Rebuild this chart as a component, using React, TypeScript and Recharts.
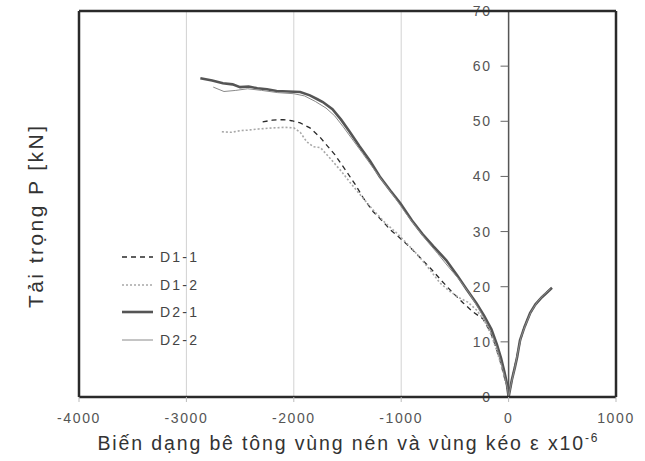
import React from 'react';
import {
  LineChart,
  Line,
  XAxis,
  YAxis,
  CartesianGrid,
  Legend,
  ReferenceLine,
} from 'recharts';

const FONT = '"Liberation Sans", Arial, sans-serif';

// axis ticks and grid positions
const X_TICKS = [-4000, -3000, -2000, -1000, 0, 1000];
const Y_TICKS = [0, 10, 20, 30, 40, 50, 60, 70];
const GRID_X = [-3000, -2000, -1000, 0];
const GRID_Y = [10, 20, 30, 40, 50, 60];

// strain (x10^-6), load (kN)
const D1_1: [number, number][] = [
  [-2290, 49.9], [-2200, 50.2], [-2100, 50.3], [-2020, 50.1], [-1940, 49.7],
  [-1850, 48.8], [-1760, 47.2], [-1690, 45.6], [-1620, 44.0], [-1520, 41.2],
  [-1430, 38.6], [-1350, 36.0], [-1260, 33.6], [-1180, 32.0], [-1100, 30.3],
  [-1010, 28.8], [-920, 27.2], [-830, 25.4], [-730, 23.4], [-620, 21.0],
  [-520, 18.9], [-420, 17.0], [-330, 15.4], [-240, 14.2], [-170, 11.8],
  [-120, 9.2], [-80, 6.6], [-45, 4.0], [-15, 1.8], [0, 0],
  [35, 3.5], [70, 6.6], [100, 9.6], [140, 12.4], [190, 14.8],
  [240, 16.5], [300, 17.9], [350, 18.9], [410, 19.9],
];

const D1_2: [number, number][] = [
  [-2670, 48.1], [-2580, 48.0], [-2500, 48.3], [-2430, 48.4], [-2330, 48.6],
  [-2200, 48.8], [-2080, 48.9], [-2000, 48.8], [-1940, 48.0], [-1880, 46.3],
  [-1820, 45.4], [-1750, 45.2], [-1650, 43.0], [-1560, 41.0], [-1480, 39.0],
  [-1370, 36.4], [-1260, 33.9], [-1150, 31.6], [-1040, 29.7], [-930, 27.5],
  [-830, 25.4], [-730, 23.0], [-640, 20.7], [-550, 19.2], [-460, 18.0],
  [-380, 17.2], [-300, 15.8], [-230, 14.0], [-160, 11.2], [-110, 8.4],
  [-70, 5.8], [-35, 3.2], [-10, 1.2], [0, 0],
  [20, 2.0], [50, 4.8], [90, 8.6], [125, 11.3], [175, 14.0],
  [225, 16.0], [285, 17.6], [340, 18.7], [380, 19.3],
];

const D2_1: [number, number][] = [
  [-2870, 57.8], [-2760, 57.4], [-2660, 56.9], [-2570, 56.7], [-2500, 56.2],
  [-2420, 56.3], [-2340, 56.0], [-2250, 55.8], [-2160, 55.5], [-2050, 55.4],
  [-1940, 55.3], [-1850, 54.7], [-1780, 54.0], [-1730, 53.5], [-1640, 52.2],
  [-1560, 50.3], [-1480, 48.1], [-1390, 45.5], [-1290, 42.8], [-1200, 40.0],
  [-1100, 37.4], [-1010, 35.2], [-900, 32.0], [-800, 29.5], [-700, 27.3],
  [-580, 24.8], [-480, 22.1], [-390, 19.5], [-300, 17.0], [-230, 14.8],
  [-160, 12.3], [-110, 9.6], [-70, 7.0], [-40, 4.6], [-15, 2.4], [0, 0],
  [30, 3.1], [60, 5.5], [80, 7.3], [106, 10.3], [150, 12.8],
  [200, 15.2], [250, 16.8], [310, 18.1], [360, 19.0], [404, 19.8],
];

const D2_2: [number, number][] = [
  [-2750, 56.2], [-2650, 55.4], [-2540, 55.6], [-2430, 55.9], [-2300, 55.6],
  [-2150, 55.2], [-2000, 55.0], [-1900, 54.6], [-1800, 53.6], [-1700, 52.4],
  [-1620, 51.0], [-1540, 49.0], [-1450, 46.6], [-1360, 44.2], [-1260, 41.5],
  [-1160, 38.8], [-1060, 36.2], [-960, 33.4], [-860, 30.8], [-760, 28.3],
  [-660, 26.0], [-560, 23.6], [-460, 21.3], [-370, 18.9], [-290, 16.4],
  [-220, 14.0], [-160, 11.5], [-110, 9.0], [-70, 6.2], [-35, 3.6],
  [-10, 1.5], [0, 0],
  [25, 2.5], [55, 5.0], [85, 8.0], [115, 10.8], [160, 13.2],
  [210, 15.5], [270, 17.3], [330, 18.6], [390, 19.6],
];

const toPoints = (arr: [number, number][]) => arr.map(([x, y]) => ({ x, y }));

const SERIES = [
  { name: 'D1-1', data: toPoints(D1_1), color: '#2a2a2a', width: 1.3, dash: '5 4' },
  { name: 'D1-2', data: toPoints(D1_2), color: '#a8a8a8', width: 1.6, dash: '2 2' },
  { name: 'D2-1', data: toPoints(D2_1), color: '#555555', width: 2.6, dash: undefined },
  { name: 'D2-2', data: toPoints(D2_2), color: '#8a8a8a', width: 1, dash: undefined },
];

const XTick = (props: any) => {
  const { x, y, payload } = props;
  return (
    <text x={x} y={y + 19} textAnchor="middle" fontSize={14} fill="#555"
      fontFamily={FONT} letterSpacing={1.6}>
      {payload.value}
    </text>
  );
};

const LegendContent = () => (
  <div style={{ fontFamily: FONT }}>
    {SERIES.map((s) => (
      <div key={s.name} style={{ display: 'flex', alignItems: 'center', height: 27.7 }}>
        <svg width={31} height={8}>
          <line x1={0} y1={4} x2={31} y2={4} stroke={s.color}
            strokeWidth={s.width} strokeDasharray={s.dash} />
        </svg>
        <span style={{ marginLeft: 7, fontSize: 14, color: '#444', letterSpacing: 2.2 }}>
          {s.name}
        </span>
      </div>
    ))}
  </div>
);

export default function App() {
  return (
    <div style={{ position: 'absolute', left: 0, top: 0, width: 645, height: 461, background: '#fff' }}>
      <LineChart width={645} height={461} margin={{ top: 11, right: 29, left: 0, bottom: 34 }}>
        <CartesianGrid stroke="#d2d2d2" horizontalValues={GRID_Y} verticalValues={GRID_X} />
        <XAxis
          type="number"
          dataKey="x"
          domain={[-4000, 1000]}
          ticks={X_TICKS}
          height={30}
          axisLine={false}
          tickLine={{ stroke: '#bbb' }}
          tickSize={5}
          tick={<XTick />}
          label={{
            content: (p: any) => (
              <text x={p.viewBox.x + p.viewBox.width / 2} y={p.viewBox.y + 53}
                textAnchor="middle" fontSize={19.5} fill="#333" fontFamily={FONT}
                textLength={500} lengthAdjust="spacing">
                Biến dạng bê tông vùng nén và vùng kéo ε x10
                <tspan fontSize={12} dy={-8}>-6</tspan>
              </text>
            ),
          }}
        />
        <YAxis
          type="number"
          dataKey="y"
          domain={[0, 70]}
          ticks={Y_TICKS}
          width={79}
          tick={false}
          axisLine={false}
          tickLine={false}
          label={{
            content: (p: any) => {
              const cx = p.viewBox.x + 35;
              const cy = p.viewBox.y + p.viewBox.height / 2 + 13;
              return (
                <text x={cx} y={cy} transform={`rotate(-90, ${cx}, ${cy})`}
                  textAnchor="middle" dominantBaseline="central" fontSize={21}
                  fill="#333" fontFamily={FONT} textLength={182} lengthAdjust="spacing">
                  Tải trọng P [kN]
                </text>
              );
            },
          }}
        />

        {/* y axis sits at strain = 0 */}
        <ReferenceLine x={0} stroke="#555" strokeWidth={1.5} />
        {Y_TICKS.map((v) => (
          <ReferenceLine
            key={`yt-${v}`}
            segment={[{ x: -75, y: v }, { x: 0, y: v }]}
            stroke="#666"
            label={{
              content: (p: any) => (
                <text x={p.viewBox.x - 9} y={p.viewBox.y} textAnchor="end"
                  dominantBaseline="central" fontSize={14} fill="#555"
                  fontFamily={FONT} letterSpacing={1.6}>
                  {v}
                </text>
              ),
            }}
          />
        ))}

        {SERIES.map((s) => (
          <Line
            key={s.name}
            data={s.data}
            dataKey="y"
            name={s.name}
            type="linear"
            stroke={s.color}
            strokeWidth={s.width}
            strokeDasharray={s.dash}
            dot={false}
            activeDot={false}
            isAnimationActive={false}
          />
        ))}

        {/* plot frame */}
        <ReferenceLine x={-4000} stroke="#2a2a2a" strokeWidth={2.5} ifOverflow="visible" />
        <ReferenceLine x={1000} stroke="#2a2a2a" strokeWidth={2.5} ifOverflow="visible" />
        <ReferenceLine y={0} stroke="#2a2a2a" strokeWidth={2.5} ifOverflow="visible" />
        <ReferenceLine y={70} stroke="#2a2a2a" strokeWidth={2.5} ifOverflow="visible" />

        <Legend
          layout="vertical"
          align="center"
          verticalAlign="middle"
          content={<LegendContent />}
          wrapperStyle={{ top: 243, left: 122, width: 'auto' }}
        />
      </LineChart>
    </div>
  );
}
